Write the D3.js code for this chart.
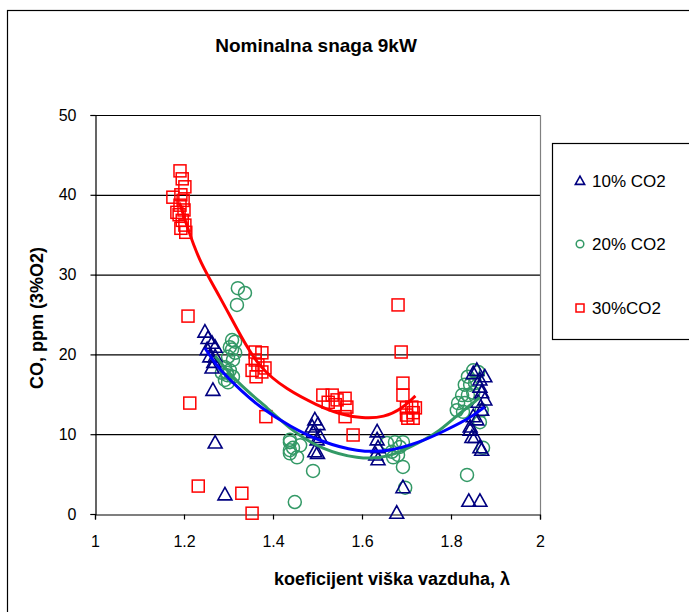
<!DOCTYPE html>
<html>
<head>
<meta charset="utf-8">
<script src="https://cdn.jsdelivr.net/npm/d3@7"></script>
<style>
  body { margin: 0; background: #fff; }
  svg { display: block; font-family: "Liberation Sans", Arial, sans-serif; }
</style>
</head>
<body>
<div id="chart"></div>
<script>
// 10% CO2 - trokuti
const co2_10 = [
  [1.247, 22.8], [1.254, 22.0], [1.263, 21.4], [1.27, 20.9], [1.252, 20.6], [1.258, 19.7],
  [1.267, 19.0], [1.263, 18.3], [1.27, 19.7], [1.265, 15.5], [1.27, 8.9], [1.292, 2.4],
  [1.494, 11.8], [1.488, 10.9], [1.501, 11.2], [1.49, 10.2], [1.499, 9.3], [1.494, 7.8], [1.506, 9.6], [1.5, 7.6],
  [1.634, 10.3], [1.634, 9.3], [1.636, 8.3], [1.631, 7.4], [1.636, 6.8], [1.692, 3.3], [1.678, 0.1],
  [1.858, 18.0], [1.876, 17.2], [1.865, 15.9], [1.876, 14.3], [1.869, 13.0], [1.858, 11.8],
  [1.843, 10.5], [1.854, 9.6], [1.869, 8.0], [1.85, 17.6], [1.865, 16.8], [1.869, 15.2],
  [1.861, 14.0], [1.85, 12.2], [1.843, 10.9], [1.847, 9.6], [1.865, 8.3], [1.84, 1.6], [1.865, 1.6]
];
// 20% CO2 - krugovi
const co2_20 = [
  [1.321, 28.3], [1.337, 27.7], [1.319, 26.2], [1.315, 21.6], [1.308, 20.6], [1.31, 19.3],
  [1.303, 18.0], [1.31, 17.2], [1.297, 17.7], [1.292, 18.4], [1.308, 21.8], [1.303, 20.9],
  [1.299, 19.7], [1.297, 17.4], [1.299, 16.5], [1.315, 20.2], [1.292, 16.8], [1.285, 17.7],
  [1.438, 9.0], [1.438, 8.0], [1.449, 1.5], [1.438, 9.3], [1.445, 8.3], [1.438, 7.6], [1.461, 8.6],
  [1.454, 7.1], [1.49, 5.4],
  [1.656, 8.9], [1.674, 9.0], [1.685, 8.4], [1.667, 7.8], [1.681, 7.4], [1.67, 7.1], [1.692, 9.0],
  [1.692, 5.9], [1.697, 3.3],
  [1.85, 18.0], [1.861, 17.8], [1.838, 17.2], [1.831, 16.2], [1.843, 16.2], [1.854, 16.4],
  [1.825, 14.9], [1.838, 14.9], [1.85, 15.2], [1.816, 13.9], [1.831, 13.9], [1.813, 13.0],
  [1.827, 12.8], [1.869, 13.0], [1.865, 11.5], [1.872, 8.3], [1.836, 4.9]
];
// 30% CO2 - kvadrati
const co2_30 = [
  [1.191, 43.0], [1.196, 42.0], [1.175, 39.7], [1.193, 40.0], [1.198, 39.3], [1.191, 38.7],
  [1.2, 38.1], [1.189, 37.5], [1.196, 36.8], [1.202, 36.2], [1.193, 35.8], [1.204, 35.3],
  [1.184, 37.8], [1.202, 41.0], [1.209, 24.8], [1.213, 13.9], [1.232, 3.5], [1.33, 2.6],
  [1.353, 0.1], [1.384, 12.2],
  [1.36, 20.3], [1.375, 20.2], [1.36, 19.3], [1.366, 18.7], [1.353, 18.0], [1.375, 17.8],
  [1.362, 17.2], [1.382, 18.3],
  [1.512, 14.9], [1.533, 14.9], [1.544, 14.3], [1.524, 14.0], [1.54, 13.7], [1.562, 14.5],
  [1.566, 13.4], [1.562, 12.2], [1.58, 9.9],
  [1.681, 26.2], [1.688, 20.3], [1.692, 16.4], [1.692, 14.9], [1.70, 13.3], [1.715, 12.7],
  [1.703, 12.0], [1.712, 13.4], [1.70, 12.4], [1.715, 12.0], [1.72, 13.3]
];
// trend linije (ocitano sa slike)
const trend_10 = [[1.247, 20.8], [1.28, 18.0], [1.33, 15.4], [1.37, 13.4], [1.44, 10.9], [1.51, 9.0],
  [1.59, 7.8], [1.66, 7.8], [1.73, 9.0], [1.77, 10.0], [1.84, 11.9], [1.875, 13.4]];
const trend_20 = [[1.27, 19.8], [1.32, 16.4], [1.39, 13.2], [1.445, 10.3], [1.51, 8.1], [1.59, 6.9],
  [1.66, 7.0], [1.73, 9.0], [1.77, 10.2], [1.81, 12.2], [1.865, 14.6]];
const trend_30 = [[1.19, 39.0], [1.21, 35.5], [1.236, 31.5], [1.28, 27.3], [1.33, 22.0], [1.37, 18.3],
  [1.43, 15.6], [1.5, 13.6], [1.55, 12.5], [1.6, 12.0], [1.65, 12.1], [1.69, 13.2], [1.72, 14.8]];

const xTicks = [1, 1.2, 1.4, 1.6, 1.8, 2];
const yTicks = [0, 10, 20, 30, 40, 50];
const legendLabels = ["10% CO2", "20% CO2", "30%CO2"];

const width = 689, height = 612;
const plot = { left: 95, top: 115, right: 540, bottom: 514 };

const svg = d3.select("#chart").append("svg")
    .attr("width", width)
    .attr("height", height);

// okvir grafikona
svg.append("rect")
    .attr("x", 7.5).attr("y", 10.5)
    .attr("width", 720).attr("height", 640)
    .attr("fill", "#fff")
    .attr("stroke", "#000")
    .attr("stroke-width", 1.2);

const x = d3.scaleLinear().domain([1, 2]).range([plot.left, plot.right]);
const y = d3.scaleLinear().domain([0, 50]).range([plot.bottom, plot.top]);

// grid
svg.append("g")
    .selectAll("line")
    .data(yTicks.filter(d => d > 0))
    .join("line")
    .attr("x1", plot.left).attr("x2", plot.right)
    .attr("y1", d => y(d) + 0.5).attr("y2", d => y(d) + 0.5)
    .attr("stroke", "#000")
    .attr("stroke-width", 1.2);

// desna ivica
svg.append("line")
    .attr("x1", plot.right + 0.5).attr("x2", plot.right + 0.5)
    .attr("y1", plot.top).attr("y2", plot.bottom)
    .attr("stroke", "#808080")
    .attr("stroke-width", 1.2);

const xAxis = svg.append("g")
    .attr("transform", `translate(0,${plot.bottom + 0.5})`)
    .call(d3.axisBottom(x).tickValues(xTicks).tickFormat(d3.format("")).tickSize(5).tickPadding(16));
const yAxis = svg.append("g")
    .attr("transform", `translate(${plot.left + 0.5},0)`)
    .call(d3.axisLeft(y).tickValues(yTicks).tickSize(5).tickPadding(14));

[xAxis, yAxis].forEach(a => {
    a.select(".domain").attr("stroke", "#000").attr("stroke-width", 1.2);
    a.selectAll(".tick line").attr("stroke", "#000").attr("stroke-width", 1.2);
    a.selectAll("text").attr("fill", "#000").attr("font-size", 16)
        .attr("font-family", "'Liberation Sans', Arial, sans-serif");
});

// markeri
const triangle = (s) => `M0,${-s * 0.62}L${s * 0.58},${s * 0.42}L${-s * 0.58},${s * 0.42}Z`;

function drawTriangles(g, data, s) {
    g.selectAll("path.tri")
        .data(data)
        .join("path")
        .attr("class", "tri")
        .attr("transform", d => `translate(${x(d[0])},${y(d[1])})`)
        .attr("d", triangle(s))
        .attr("fill", "none")
        .attr("stroke", "#000080")
        .attr("stroke-width", 1.6);
}

const pts = svg.append("g");

pts.append("g").selectAll("circle")
    .data(co2_20)
    .join("circle")
    .attr("cx", d => x(d[0]))
    .attr("cy", d => y(d[1]))
    .attr("r", 6.5)
    .attr("fill", "none")
    .attr("stroke", "#339966")
    .attr("stroke-width", 1.5);

drawTriangles(pts.append("g"), co2_10, 12);

pts.append("g").selectAll("rect")
    .data(co2_30)
    .join("rect")
    .attr("x", d => x(d[0]) - 6)
    .attr("y", d => y(d[1]) - 6)
    .attr("width", 12)
    .attr("height", 12)
    .attr("fill", "none")
    .attr("stroke", "#ff0000")
    .attr("stroke-width", 1.5);

// trend linije
const line = d3.line()
    .x(d => x(d[0]))
    .y(d => y(d[1]))
    .curve(d3.curveBasis);

[[trend_30, "#ff0000"], [trend_20, "#339966"], [trend_10, "#0000ff"]].forEach(([data, color]) => {
    svg.append("path")
        .datum(data)
        .attr("d", line)
        .attr("fill", "none")
        .attr("stroke", color)
        .attr("stroke-width", 3);
});

// naslov
svg.append("text")
    .attr("x", 316).attr("y", 52)
    .attr("text-anchor", "middle")
    .attr("font-size", 19)
    .attr("font-weight", "bold")
    .text("Nominalna snaga 9kW");

svg.append("text")
    .attr("x", 392).attr("y", 585)
    .attr("text-anchor", "middle")
    .attr("font-size", 18)
    .attr("font-weight", "bold")
    .text("koeficijent viška vazduha, λ");

svg.append("text")
    .attr("transform", "translate(43,318) rotate(-90)")
    .attr("text-anchor", "middle")
    .attr("font-size", 18)
    .attr("font-weight", "bold")
    .text("CO, ppm (3%O2)");

// legenda
const legend = svg.append("g");
legend.append("rect")
    .attr("x", 552.5).attr("y", 143.5)
    .attr("width", 160).attr("height", 196)
    .attr("fill", "#fff")
    .attr("stroke", "#000")
    .attr("stroke-width", 1.2);

const legY = [181, 244, 308];
legendLabels.forEach((lab, i) => {
    const cy = legY[i];
    if (i === 0) {
        legend.append("path")
            .attr("transform", `translate(580,${cy})`)
            .attr("d", triangle(8))
            .attr("fill", "none").attr("stroke", "#000080").attr("stroke-width", 1.6);
    } else if (i === 1) {
        legend.append("circle")
            .attr("cx", 580).attr("cy", cy).attr("r", 3.8)
            .attr("fill", "none").attr("stroke", "#339966").attr("stroke-width", 1.5);
    } else {
        legend.append("rect")
            .attr("x", 576).attr("y", cy - 4).attr("width", 8).attr("height", 8)
            .attr("fill", "none").attr("stroke", "#ff0000").attr("stroke-width", 1.5);
    }
    legend.append("text")
        .attr("x", 592).attr("y", cy + 6)
        .attr("font-size", 17)
        .text(lab);
});
</script>
</body>
</html>
